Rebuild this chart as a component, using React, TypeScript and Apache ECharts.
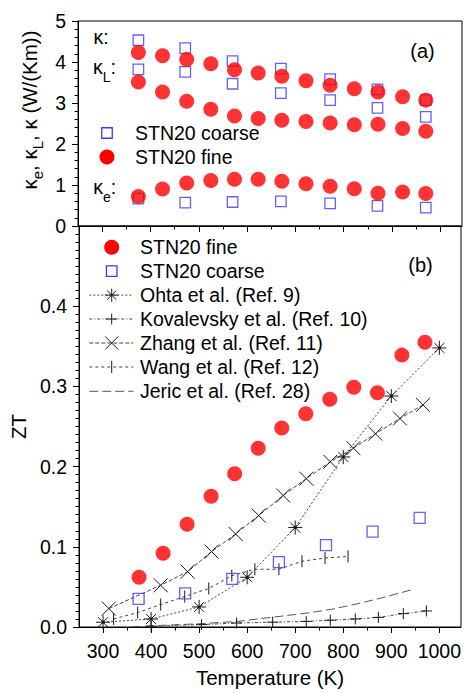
import React, { useEffect, useRef } from 'react';
import * as echarts from 'echarts';

const FONT = '"Liberation Sans", Arial, Helvetica, sans-serif';
const RED = '#ff0000';
const BLUE = '#3a3aff';
const INK = '#1a1a1a';
const LINE = '#444444';

// ---------- panel (a): thermal conductivity, W/(Km) ----------
const coarseT = [375, 472, 570, 670, 772, 870, 970];
const coarseKappa = [4.53, 4.34, 4.02, 3.84, 3.58, 3.33, 3.07];
const coarseKappaL = [3.82, 3.76, 3.47, 3.24, 3.07, 2.88, 2.66];
const coarseKappaE = [0.67, 0.57, 0.585, 0.6, 0.55, 0.49, 0.45];

const fineT = [375, 425, 475, 525, 574, 623, 672, 722, 772, 822, 871, 922, 970];
const fineKappa = [4.23, 4.15, 4.06, 3.96, 3.81, 3.73, 3.65, 3.54, 3.43, 3.35, 3.27, 3.15, 3.07];
const fineKappaL = [3.51, 3.27, 3.04, 2.85, 2.68, 2.62, 2.58, 2.55, 2.51, 2.47, 2.48, 2.38, 2.31];
const fineKappaE = [0.72, 0.9, 1.05, 1.11, 1.14, 1.14, 1.09, 1.03, 0.97, 0.91, 0.8, 0.83, 0.79];

// ---------- panel (b): ZT ----------
const fineZT = [0.062, 0.092, 0.128, 0.163, 0.191, 0.223, 0.248, 0.266, 0.284, 0.299, 0.292, 0.339, 0.355];
const coarseZTT = [374, 471, 569, 666, 764, 861, 959];
const coarseZT = [0.035, 0.042, 0.06, 0.081, 0.102, 0.119, 0.136];

const ohtaT = [300, 400, 500, 600, 700, 800, 900, 1000];
const ohtaZT = [0.006, 0.01, 0.025, 0.062, 0.124, 0.212, 0.288, 0.348];
const kovT = [400, 505, 578, 653, 723, 773, 825, 873, 925, 973];
const kovZT = [0.001, 0.003, 0.005, 0.006, 0.007, 0.0085, 0.01, 0.012, 0.0167, 0.02];
const zhangT = [312, 420, 476, 526, 576, 624, 675, 723, 773, 821, 867, 918, 966];
const zhangZT = [0.023, 0.052, 0.069, 0.094, 0.116, 0.139, 0.164, 0.185, 0.206, 0.223, 0.241, 0.26, 0.277];
const wangT = [322, 372, 420, 470, 520, 568, 616, 666, 714, 762, 810];
const wangZT = [0.01, 0.018, 0.028, 0.038, 0.048, 0.064, 0.072, 0.072, 0.082, 0.086, 0.088];
const jericT = [360, 420, 500, 580, 650, 720, 775, 830, 878, 940];
const jericZT = [0.0, 0.002, 0.004, 0.007, 0.012, 0.017, 0.022, 0.029, 0.036, 0.046];

// ---------- axes ----------
const xMajor = [300, 400, 500, 600, 700, 800, 900, 1000];
const xMinor = [350, 450, 550, 650, 750, 850, 950];

const NAME_FINE = 'STN20 fine';
const NAME_COARSE = 'STN20 coarse';
const NAME_OHTA = 'Ohta et al. (Ref. 9)';
const NAME_KOV = 'Kovalevsky et al. (Ref. 10)';
const NAME_ZHANG = 'Zhang et al. (Ref. 11)';
const NAME_WANG = 'Wang et al. (Ref. 12)';
const NAME_JERIC = 'Jeric et al. (Ref. 28)';

const STAR = 'path://M6 0L6 12M0 6L12 6M1.76 1.76L10.24 10.24M1.76 10.24L10.24 1.76M5.2 5.2L6.8 5.2L6.8 6.8L5.2 6.8Z';
const CROSS = 'path://M0 0L12 12M0 12L12 0';
const PLUS = 'path://M6 0L6 12M0 6L12 6';
const BAR = 'path://M6 0L6 12M0 6L0 6M12 6L12 6';

const DASH_OHTA = [2, 2];
const DASH_KOV = [3, 2, 1, 2];
const DASH_ZHANG = [4, 2];
const DASH_WANG = [3, 3];
const DASH_JERIC = [9, 4];

const pairs = (xs: number[], ys: number[]) => xs.map((x, i) => [x, ys[i]]);

type Marker = 'circle' | 'square' | 'star' | 'plus' | 'cross' | 'bar' | 'none';

function seg(x1: number, y1: number, x2: number, y2: number, stroke = INK, lineDash?: number[]) {
  return { type: 'line', z: 20, shape: { x1, y1, x2, y2 }, style: { stroke, lineWidth: 1, lineDash: lineDash || null } };
}

function markerGraphic(kind: Marker, cx: number, cy: number): any[] {
  switch (kind) {
    case 'circle':
      return [{ type: 'circle', z: 21, shape: { cx, cy, r: 7.5 }, style: { fill: RED } }];
    case 'square':
      return [{ type: 'rect', z: 21, shape: { x: cx - 5.25, y: cy - 5.25, width: 10.5, height: 10.5 }, style: { fill: 'none', stroke: BLUE, lineWidth: 1.3 } }];
    case 'star':
      return [
        seg(cx - 6.5, cy, cx + 6.5, cy), seg(cx, cy - 6.5, cx, cy + 6.5),
        seg(cx - 4.6, cy - 4.6, cx + 4.6, cy + 4.6), seg(cx - 4.6, cy + 4.6, cx + 4.6, cy - 4.6),
      ];
    case 'plus':
      return [seg(cx - 5.5, cy, cx + 5.5, cy), seg(cx, cy - 5.5, cx, cy + 5.5)];
    case 'cross':
      return [seg(cx - 6.5, cy - 6.5, cx + 6.5, cy + 6.5), seg(cx - 6.5, cy + 6.5, cx + 6.5, cy - 6.5)];
    case 'bar':
      return [seg(cx, cy - 6, cx, cy + 6)];
    default:
      return [];
  }
}

function legendRow(label: string, marker: Marker, cx: number, cy: number, textX: number, dash?: number[], lineColor = LINE, lineFrom = 0, lineTo = 0): any[] {
  const out: any[] = [];
  if (dash) out.push(seg(lineFrom, cy, lineTo, cy, lineColor, dash));
  out.push(...markerGraphic(marker, cx, cy));
  out.push({
    type: 'text', z: 21, x: textX, y: cy,
    style: { text: label, fontSize: 19.5, fontFamily: FONT, fill: '#000', align: 'left', verticalAlign: 'middle' },
  });
  return out;
}

function buildOption(): any {
  const topCoarse = [
    ...pairs(coarseT, coarseKappa),
    ...pairs(coarseT, coarseKappaL),
    ...pairs(coarseT, coarseKappaE),
  ];
  const topFine = [
    ...pairs(fineT, fineKappa),
    ...pairs(fineT, fineKappaL),
    ...pairs(fineT, fineKappaE),
  ];

  const axisLineStyle = { color: '#000', width: 1 };
  const xBase = (grid: number) => ({
    type: 'value',
    gridIndex: grid,
    position: 'bottom',
    min: 250,
    max: 1045,
    splitLine: { show: false },
  });

  const xAxis = [
    {
      ...xBase(0),
      axisLine: { show: true, lineStyle: axisLineStyle },
      axisTick: { show: true, length: 6, customValues: xMajor, lineStyle: axisLineStyle },
      axisLabel: { show: false },
    },
    {
      ...xBase(0),
      axisLine: { show: false },
      axisTick: { show: true, length: 3.5, customValues: xMinor, lineStyle: axisLineStyle },
      axisLabel: { show: false },
    },
    {
      ...xBase(1),
      axisLine: { show: true, lineStyle: axisLineStyle },
      axisTick: { show: true, length: 6, customValues: xMajor, lineStyle: axisLineStyle },
      axisLabel: {
        show: true, customValues: xMajor, fontSize: 19.5, color: '#000', fontFamily: FONT, margin: 14,
        formatter: (v: number) => String(v),
      },
      name: 'Temperature (K)',
      nameLocation: 'middle',
      nameGap: 40,
      nameTextStyle: { fontSize: 20.5, color: '#000', fontFamily: FONT },
    },
    {
      ...xBase(1),
      axisLine: { show: false },
      axisTick: { show: true, length: 3.5, customValues: xMinor, lineStyle: axisLineStyle },
      axisLabel: { show: false },
    },
  ];

  const yAxis = [
    {
      type: 'value',
      gridIndex: 0,
      position: 'left',
      min: 0,
      max: 5,
      interval: 1,
      splitLine: { show: false },
      axisLine: { show: true, lineStyle: axisLineStyle },
      axisTick: { show: true, length: 6, lineStyle: axisLineStyle },
      minorTick: { show: true, splitNumber: 5, length: 3.5, lineStyle: axisLineStyle },
      axisLabel: { fontSize: 19.5, color: '#000', fontFamily: FONT, margin: 12 },
    },
    {
      type: 'value',
      gridIndex: 1,
      position: 'left',
      min: 0,
      max: 0.5,
      interval: 0.1,
      splitLine: { show: false },
      axisLine: { show: true, lineStyle: axisLineStyle },
      axisTick: { show: true, length: 6, lineStyle: axisLineStyle },
      minorTick: { show: true, splitNumber: 10, length: 3.5, lineStyle: axisLineStyle },
      axisLabel: {
        fontSize: 19.5,
        color: '#000',
        fontFamily: FONT,
        margin: 12,
        formatter: (v: number) => (v > 0.45 ? '' : v.toFixed(1)),
      },
      name: 'ZT',
      nameLocation: 'middle',
      nameRotate: 90,
      nameGap: 43,
      nameTextStyle: { fontSize: 20.5, color: '#000', fontFamily: FONT },
    },
  ];

  const refLine = (name: string, xs: number[], ys: number[], symbol: string, size: number, dash: number[], color = LINE) => ({
    type: 'line',
    name,
    xAxisIndex: 2,
    yAxisIndex: 1,
    data: pairs(xs, ys),
    symbol,
    symbolSize: size,
    showSymbol: true,
    lineStyle: { color, width: 1, type: dash },
    itemStyle: { color: INK, borderColor: INK, borderWidth: 1 },
    z: 2,
  });

  const series: any[] = [
    {
      type: 'scatter', name: NAME_COARSE, xAxisIndex: 0, yAxisIndex: 0, data: topCoarse,
      symbol: 'rect', symbolSize: 10.5,
      itemStyle: { color: 'transparent', borderColor: BLUE, borderWidth: 1.3 }, z: 3,
    },
    {
      type: 'scatter', name: NAME_FINE, xAxisIndex: 0, yAxisIndex: 0, data: topFine,
      symbol: 'circle', symbolSize: 15, itemStyle: { color: RED }, z: 4,
    },
    {
      type: 'scatter', name: NAME_FINE, xAxisIndex: 2, yAxisIndex: 1, data: pairs(fineT, fineZT),
      symbol: 'circle', symbolSize: 15, itemStyle: { color: RED }, z: 4,
    },
    {
      type: 'scatter', name: NAME_COARSE, xAxisIndex: 2, yAxisIndex: 1, data: pairs(coarseZTT, coarseZT),
      symbol: 'rect', symbolSize: 11,
      itemStyle: { color: 'transparent', borderColor: BLUE, borderWidth: 1.3 }, z: 3,
    },
    refLine(NAME_OHTA, ohtaT, ohtaZT, STAR, 14, DASH_OHTA),
    refLine(NAME_KOV, kovT, kovZT, PLUS, 11, DASH_KOV),
    refLine(NAME_ZHANG, zhangT, zhangZT, CROSS, 14, DASH_ZHANG),
    refLine(NAME_WANG, wangT, wangZT, BAR, 12, DASH_WANG),
    {
      ...refLine(NAME_JERIC, jericT, jericZT, 'none', 0, DASH_JERIC, '#555555'),
      showSymbol: false,
    },
  ];

  const labelRich = {
    m: { fontSize: 19.5, fontFamily: FONT, lineHeight: 27, verticalAlign: 'top', fill: '#000' },
    s: { fontSize: 14, fontFamily: FONT, lineHeight: 27, verticalAlign: 'bottom', fill: '#000' },
  };
  const titleRich = {
    m: { fontSize: 20.5, fontFamily: FONT, lineHeight: 26, verticalAlign: 'top', fill: '#000' },
    s: { fontSize: 15, fontFamily: FONT, lineHeight: 26, verticalAlign: 'bottom', fill: '#000' },
  };

  // legend of panel (a)
  const legendA = [
    ...legendRow(NAME_COARSE, 'square', 107, 133, 135),
    ...legendRow(NAME_FINE, 'circle', 107, 157, 135),
  ];
  // legend of panel (b)
  const bx = 111.7, bl0 = 89.3, bl1 = 133.3, btx = 140;
  const legendB = [
    ...legendRow(NAME_FINE, 'circle', bx, 247.3, btx),
    ...legendRow(NAME_COARSE, 'square', bx, 271.2, btx),
    ...legendRow(NAME_OHTA, 'star', bx, 295.1, btx, DASH_OHTA, LINE, bl0, bl1),
    ...legendRow(NAME_KOV, 'plus', bx, 319, btx, DASH_KOV, LINE, bl0, bl1),
    ...legendRow(NAME_ZHANG, 'cross', bx, 343, btx, DASH_ZHANG, LINE, bl0, bl1),
    ...legendRow(NAME_WANG, 'bar', bx, 367, btx, DASH_WANG, LINE, bl0, bl1),
    ...legendRow(NAME_JERIC, 'none', bx, 391.3, btx, DASH_JERIC, '#555555', bl0, bl1),
  ];

  const graphic = [
    {
      type: 'text', x: 31.8, y: 110, rotation: Math.PI / 2, z: 10,
      style: { text: '{m|κ}{s|e}{m|, κ}{s|L}{m|, κ (W/(Km))}', rich: titleRich, align: 'center', verticalAlign: 'middle' },
    },
    { type: 'text', x: 93.5, y: 40.7, z: 10, style: { text: '{m|κ:}', rich: labelRich, align: 'left', verticalAlign: 'middle' } },
    { type: 'text', x: 93, y: 70.7, z: 10, style: { text: '{m|κ}{s|L}{m|:}', rich: labelRich, align: 'left', verticalAlign: 'middle' } },
    { type: 'text', x: 93.3, y: 190.7, z: 10, style: { text: '{m|κ}{s|e}{m|:}', rich: labelRich, align: 'left', verticalAlign: 'middle' } },
    { type: 'text', x: 422.5, y: 51, z: 10, style: { text: '(a)', fontSize: 20, fontFamily: FONT, fill: '#000', align: 'center', verticalAlign: 'middle' } },
    { type: 'text', x: 420.5, y: 265, z: 10, style: { text: '(b)', fontSize: 20, fontFamily: FONT, fill: '#000', align: 'center', verticalAlign: 'middle' } },
    ...legendA,
    ...legendB,
  ];

  return {
    animation: false,
    backgroundColor: '#ffffff',
    grid: [
      { left: 78, top: 21, width: 384, height: 205, show: true, borderColor: '#000', borderWidth: 1, backgroundColor: 'transparent' },
      { left: 78, top: 226, width: 384, height: 410, show: true, borderColor: '#000', borderWidth: 1, backgroundColor: 'transparent' },
    ],
    xAxis,
    yAxis,
    series,
    graphic,
  };
}

export default function App() {
  const ref = useRef<HTMLDivElement>(null);
  useEffect(() => {
    if (!ref.current) return;
    const chart = echarts.init(ref.current, null, { renderer: 'svg' });
    chart.setOption(buildOption());
    return () => chart.dispose();
  }, []);
  return <div ref={ref} style={{ position: 'absolute', left: 0, top: 0, width: 464, height: 693 }} />;
}
